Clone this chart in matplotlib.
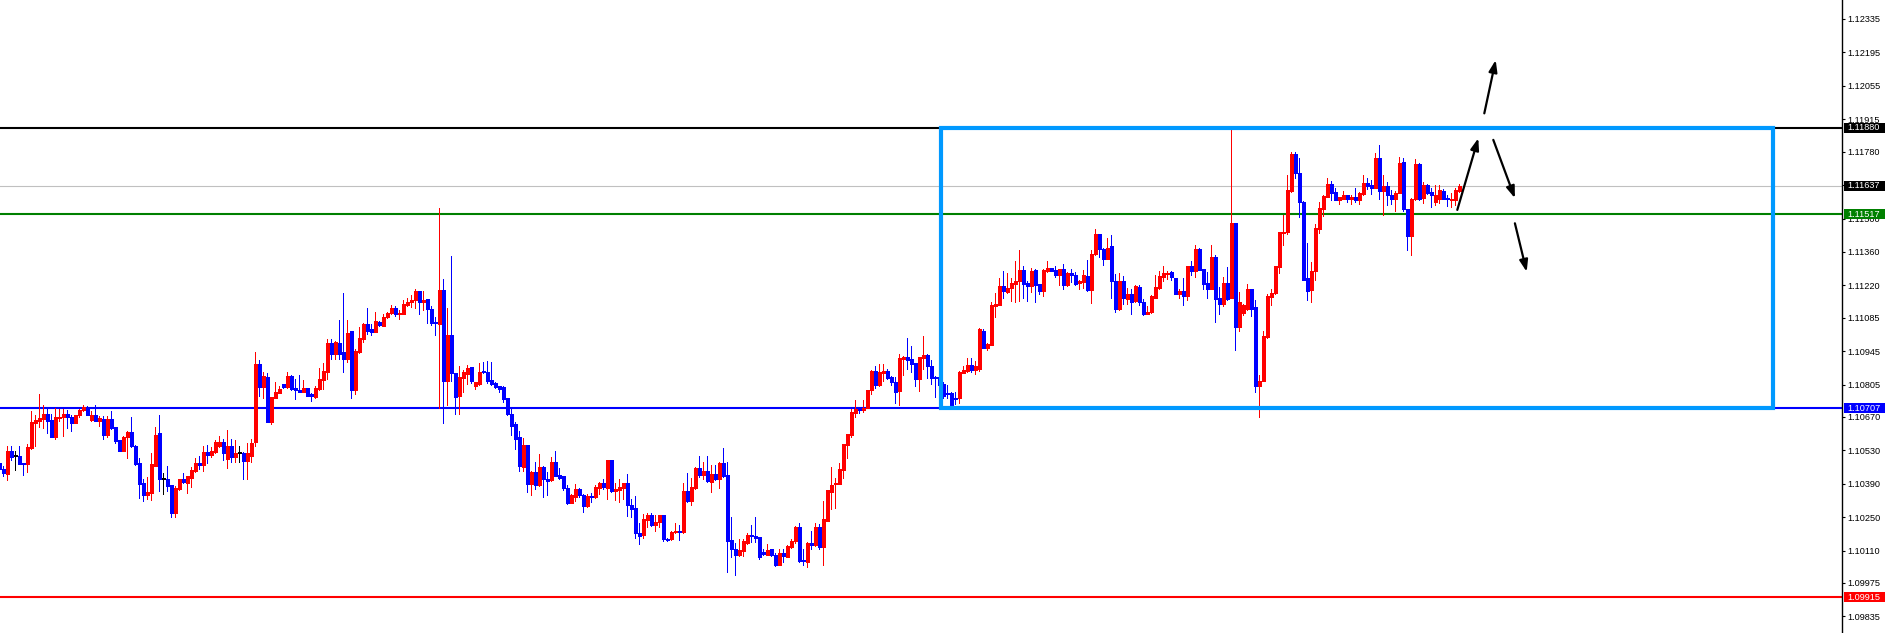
import matplotlib
matplotlib.use("Agg")
import matplotlib.pyplot as plt
from matplotlib.patches import Rectangle, FancyArrowPatch
import matplotlib.transforms as mtransforms
import numpy as np

# ---------------- data (EURUSD-style candles) ----------------
open_ = [
1.10475,1.10451,1.10431,1.10527,1.10506,1.10506,1.10476,1.10473,1.10541,1.10646,
1.10654,1.10662,1.10682,1.10657,1.10587,1.10665,1.10668,1.10682,1.10671,1.10646,
1.10676,1.10699,1.10707,1.10657,1.10679,1.10654,1.10662,1.10595,1.10662,1.10627,
1.10573,1.10528,1.10584,1.10606,1.10548,1.10476,1.10392,1.10343,1.10352,1.10466,
1.10601,1.10412,1.10412,1.10384,1.10268,1.10368,1.10409,1.10392,1.10415,1.10444,
1.10475,1.10469,1.10521,1.10512,1.10522,1.10546,1.10566,1.10494,1.10546,1.10504,
1.10518,1.10518,1.10486,1.10507,1.10566,1.10892,1.10797,1.10836,1.10647,1.10750,
1.10771,1.10808,1.10795,1.10841,1.10792,1.10782,1.10774,1.10792,1.10764,1.10753,
1.10787,1.10823,1.10859,1.10980,1.10935,1.10980,1.10943,1.10913,1.11030,1.10783,
1.10940,1.10996,1.11059,1.11036,1.11027,1.11068,1.11052,1.11086,1.11105,1.11127,
1.11099,1.11102,1.11139,1.11149,1.11158,1.11197,1.11149,1.11165,1.11123,1.11064,
1.11057,1.11202,1.10822,1.11014,1.10853,1.10759,1.10833,1.10850,1.10879,1.10800,
1.10807,1.10863,1.10857,1.10825,1.10812,1.10801,1.10793,1.10749,1.10682,1.10640,
1.10584,1.10461,1.10552,1.10389,1.10438,1.10385,1.10461,1.10412,1.10405,1.10481,
1.10426,1.10421,1.10372,1.10309,1.10336,1.10368,1.10343,1.10298,1.10339,1.10336,
1.10371,1.10392,1.10374,1.10488,1.10360,1.10362,1.10371,1.10392,1.10300,1.10288,
1.10185,1.10174,1.10237,1.10258,1.10216,1.10230,1.10258,1.10157,1.10157,1.10188,
1.10190,1.10188,1.10358,1.10316,1.10372,1.10455,1.10425,1.10442,1.10397,1.10430,
1.10409,1.10478,1.10425,1.10153,1.10118,1.10090,1.10108,1.10143,1.10174,1.10171,
1.10167,1.10104,1.10091,1.10116,1.10094,1.10052,1.10102,1.10083,1.10125,1.10150,
1.10208,1.10069,1.10062,1.10143,1.10132,1.10208,1.10125,1.10236,1.10355,1.10387,
1.10387,1.10447,1.10552,1.10593,1.10688,1.10703,1.10699,1.10708,1.10782,1.10861,
1.10803,1.10855,1.10861,1.10835,1.10817,1.10779,1.10914,1.10921,1.10912,1.10895,
1.10828,1.10917,1.10928,1.10881,1.10838,1.10835,1.10807,1.10768,1.10768,1.10751,
1.10748,1.10855,1.10863,1.10886,1.10865,1.10870,1.11030,1.10960,1.10972,1.11133,
1.11139,1.11218,1.11194,1.11211,1.11226,1.11237,1.11286,1.11230,1.11216,1.11283,
1.11227,1.11198,1.11279,1.11294,1.11286,1.11265,1.11288,1.11220,1.11271,1.11265,
1.11229,1.11234,1.11261,1.11199,1.11350,1.11437,1.11374,1.11332,1.11383,1.11240,
1.11120,1.11240,1.11162,1.11185,1.11153,1.11213,1.11151,1.11102,1.11107,1.11169,
1.11211,1.11257,1.11267,1.11275,1.11252,1.11186,1.11196,1.11175,1.11300,1.11279,
1.11371,1.11287,1.11232,1.11207,1.11341,1.11168,1.11144,1.11232,1.11168,1.11480,
1.11044,1.11105,1.11122,1.11207,1.11128,1.10800,1.10819,1.11003,1.11172,1.11188,
1.11297,1.11439,1.11442,1.11614,1.11769,1.11690,1.11569,1.11249,1.11200,1.11279,
1.11456,1.11540,1.11592,1.11643,1.11609,1.11578,1.11583,1.11597,1.11581,1.11592,
1.11578,1.11602,1.11648,1.11640,1.11629,1.11755,1.11615,1.11637,1.11600,1.11580,
1.11605,1.11738,1.11541,1.11425,1.11580,1.11730,1.11586,1.11642,1.11612,1.11569,
1.11583,1.11614,1.11583,1.11576,1.11576,1.11615]
high = [
1.10482,1.10465,1.10549,1.10549,1.10527,1.10549,1.10476,1.10555,1.10695,1.10678,
1.10766,1.10720,1.10703,1.10682,1.10707,1.10703,1.10703,1.10700,1.10679,1.10679,
1.10703,1.10720,1.10716,1.10696,1.10720,1.10675,1.10672,1.10673,1.10696,1.10627,
1.10573,1.10590,1.10612,1.10669,1.10553,1.10496,1.10412,1.10417,1.10518,1.10627,
1.10678,1.10434,1.10464,1.10384,1.10381,1.10412,1.10434,1.10423,1.10461,1.10497,
1.10506,1.10550,1.10554,1.10542,1.10574,1.10588,1.10577,1.10616,1.10577,1.10574,
1.10546,1.10521,1.10560,1.10577,1.10943,1.10910,1.10857,1.10854,1.10755,1.10817,
1.10801,1.10808,1.10859,1.10845,1.10829,1.10845,1.10826,1.10792,1.10770,1.10798,
1.10875,1.10894,1.10994,1.10994,1.10989,1.11077,1.11189,1.11076,1.11030,1.10954,
1.11045,1.11064,1.11126,1.11059,1.11108,1.11073,1.11101,1.11108,1.11136,1.11134,
1.11116,1.11158,1.11169,1.11179,1.11204,1.11197,1.11197,1.11165,1.11132,1.11088,
1.11542,1.11248,1.11127,1.11344,1.10853,1.10882,1.10864,1.10888,1.10879,1.10817,
1.10896,1.10899,1.10905,1.10900,1.10817,1.10801,1.10798,1.10749,1.10706,1.10650,
1.10612,1.10582,1.10552,1.10445,1.10480,1.10515,1.10466,1.10438,1.10503,1.10527,
1.10454,1.10421,1.10386,1.10347,1.10389,1.10373,1.10347,1.10347,1.10353,1.10383,
1.10397,1.10409,1.10488,1.10488,1.10392,1.10411,1.10395,1.10430,1.10325,1.10337,
1.10224,1.10262,1.10266,1.10269,1.10260,1.10260,1.10258,1.10162,1.10192,1.10227,
1.10216,1.10392,1.10434,1.10414,1.10459,1.10505,1.10480,1.10508,1.10467,1.10467,
1.10481,1.10539,1.10481,1.10253,1.10143,1.10157,1.10160,1.10185,1.10216,1.10253,
1.10167,1.10118,1.10136,1.10118,1.10101,1.10118,1.10118,1.10132,1.10157,1.10213,
1.10227,1.10115,1.10146,1.10192,1.10227,1.10222,1.10316,1.10362,1.10461,1.10415,
1.10475,1.10558,1.10597,1.10702,1.10740,1.10709,1.10740,1.10782,1.10865,1.10882,
1.10891,1.10891,1.10872,1.10842,1.10838,1.10933,1.10926,1.10999,1.10965,1.10895,
1.10921,1.11007,1.10933,1.10907,1.10840,1.10835,1.10814,1.10803,1.10772,1.10772,
1.10863,1.10884,1.10916,1.10916,1.10905,1.11040,1.11039,1.10980,1.11151,1.11190,
1.11251,1.11282,1.11274,1.11251,1.11321,1.11370,1.11300,1.11237,1.11294,1.11290,
1.11227,1.11290,1.11322,1.11294,1.11300,1.11290,1.11308,1.11276,1.11290,1.11276,
1.11241,1.11283,1.11328,1.11370,1.11454,1.11437,1.11377,1.11419,1.11429,1.11269,
1.11274,1.11260,1.11211,1.11204,1.11220,1.11220,1.11162,1.11132,1.11178,1.11262,
1.11279,1.11300,1.11281,1.11281,1.11252,1.11203,1.11249,1.11300,1.11322,1.11389,
1.11375,1.11290,1.11276,1.11388,1.11347,1.11213,1.11255,1.11297,1.11874,1.11480,
1.11191,1.11144,1.11228,1.11207,1.11157,1.10847,1.11028,1.11185,1.11203,1.11300,
1.11442,1.11515,1.11681,1.11779,1.11779,1.11752,1.11572,1.11396,1.11320,1.11476,
1.11569,1.11599,1.11669,1.11657,1.11629,1.11592,1.11614,1.11597,1.11597,1.11629,
1.11609,1.11681,1.11669,1.11660,1.11776,1.11809,1.11684,1.11654,1.11621,1.11617,
1.11759,1.11755,1.11541,1.11586,1.11751,1.11734,1.11653,1.11646,1.11629,1.11642,
1.11642,1.11622,1.11600,1.11608,1.11629,1.11643]
low = [
1.10448,1.10423,1.10406,1.10490,1.10448,1.10473,1.10427,1.10440,1.10535,1.10549,
1.10629,1.10623,1.10604,1.10587,1.10576,1.10651,1.10590,1.10623,1.10612,1.10643,
1.10671,1.10693,1.10679,1.10654,1.10654,1.10632,1.10578,1.10587,1.10620,1.10562,
1.10528,1.10528,1.10497,1.10545,1.10468,1.10331,1.10318,1.10326,1.10324,1.10466,
1.10361,1.10347,1.10361,1.10252,1.10252,1.10363,1.10392,1.10352,1.10375,1.10441,
1.10452,1.10445,1.10479,1.10501,1.10518,1.10542,1.10490,1.10455,1.10483,1.10483,
1.10483,1.10409,1.10409,1.10483,1.10549,1.10756,1.10750,1.10650,1.10640,1.10748,
1.10770,1.10790,1.10792,1.10784,1.10745,1.10773,1.10773,1.10756,1.10738,1.10750,
1.10784,1.10787,1.10829,1.10913,1.10913,1.10913,1.10859,1.10899,1.10750,1.10766,
1.10938,1.10985,1.11017,1.11013,1.11024,1.11052,1.11050,1.11083,1.11100,1.11092,
1.11081,1.11099,1.11132,1.11130,1.11127,1.11099,1.11118,1.11064,1.11056,1.11014,
1.10707,1.10645,1.10721,1.10822,1.10682,1.10682,1.10773,1.10808,1.10812,1.10787,
1.10805,1.10854,1.10812,1.10805,1.10791,1.10776,1.10734,1.10677,1.10594,1.10536,
1.10445,1.10445,1.10357,1.10343,1.10368,1.10382,1.10333,1.10343,1.10403,1.10421,
1.10410,1.10365,1.10305,1.10308,1.10319,1.10336,1.10273,1.10291,1.10315,1.10332,
1.10348,1.10367,1.10325,1.10357,1.10322,1.10313,1.10325,1.10255,1.10252,1.10164,
1.10137,1.10162,1.10210,1.10213,1.10192,1.10210,1.10150,1.10149,1.10154,1.10182,
1.10154,1.10185,1.10313,1.10302,1.10369,1.10420,1.10411,1.10397,1.10355,1.10406,
1.10372,1.10420,1.10020,1.10083,1.10007,1.10087,1.10087,1.10140,1.10146,1.10146,
1.10076,1.10093,1.10091,1.10088,1.10048,1.10052,1.10062,1.10083,1.10120,1.10143,
1.10062,1.10052,1.10042,1.10118,1.10129,1.10115,1.10052,1.10234,1.10283,1.10290,
1.10387,1.10413,1.10496,1.10586,1.10670,1.10687,1.10689,1.10706,1.10765,1.10789,
1.10800,1.10821,1.10828,1.10803,1.10730,1.10720,1.10845,1.10870,1.10856,1.10800,
1.10779,1.10870,1.10832,1.10807,1.10755,1.10783,1.10751,1.10751,1.10719,1.10723,
1.10730,1.10852,1.10856,1.10856,1.10849,1.10863,1.10958,1.10948,1.10969,1.11086,
1.11137,1.11169,1.11190,1.11153,1.11151,1.11153,1.11169,1.11155,1.11192,1.11151,
1.11185,1.11174,1.11275,1.11279,1.11255,1.11220,1.11206,1.11216,1.11234,1.11223,
1.11206,1.11211,1.11197,1.11148,1.11346,1.11339,1.11304,1.11329,1.11169,1.11107,
1.11117,1.11141,1.11141,1.11099,1.11151,1.11137,1.11095,1.11102,1.11104,1.11169,
1.11206,1.11237,1.11248,1.11244,1.11186,1.11168,1.11140,1.11161,1.11262,1.11255,
1.11283,1.11207,1.11168,1.11207,1.11066,1.11102,1.11133,1.11158,1.11168,1.10951,
1.11028,1.11098,1.11119,1.11094,1.10773,1.10668,1.10819,1.11000,1.11136,1.11186,
1.11273,1.11389,1.11437,1.11610,1.11671,1.11506,1.11242,1.11161,1.11150,1.11242,
1.11438,1.11511,1.11588,1.11578,1.11576,1.11560,1.11581,1.11569,1.11562,1.11571,
1.11560,1.11597,1.11622,1.11604,1.11629,1.11583,1.11513,1.11558,1.11559,1.11531,
1.11605,1.11530,1.11370,1.11349,1.11576,1.11576,1.11565,1.11604,1.11548,1.11558,
1.11565,1.11580,1.11551,1.11548,1.11555,1.11611]
close = [
1.10451,1.10434,1.10527,1.10501,1.10506,1.10473,1.10473,1.10543,1.10648,1.10657,
1.10665,1.10682,1.10654,1.10587,1.10668,1.10671,1.10682,1.10668,1.10646,1.10676,
1.10699,1.10713,1.10679,1.10676,1.10654,1.10665,1.10595,1.10662,1.10623,1.10570,
1.10528,1.10584,1.10606,1.10548,1.10473,1.10389,1.10343,1.10354,1.10472,1.10594,
1.10409,1.10412,1.10381,1.10268,1.10371,1.10409,1.10398,1.10423,1.10447,1.10475,
1.10469,1.10521,1.10512,1.10529,1.10564,1.10566,1.10518,1.10546,1.10500,1.10518,
1.10518,1.10486,1.10518,1.10560,1.10892,1.10797,1.10839,1.10650,1.10755,1.10774,
1.10787,1.10794,1.10841,1.10787,1.10781,1.10774,1.10792,1.10759,1.10759,1.10792,
1.10829,1.10862,1.10980,1.10935,1.10985,1.10935,1.10913,1.11022,1.10783,1.10947,
1.11001,1.11059,1.11030,1.11027,1.11071,1.11055,1.11087,1.11105,1.11126,1.11099,
1.11102,1.11144,1.11151,1.11160,1.11197,1.11149,1.11160,1.11123,1.11064,1.11061,
1.11202,1.10822,1.11014,1.10853,1.10755,1.10836,1.10856,1.10874,1.10821,1.10817,
1.10857,1.10856,1.10821,1.10808,1.10797,1.10787,1.10745,1.10680,1.10633,1.10577,
1.10466,1.10552,1.10389,1.10440,1.10385,1.10461,1.10412,1.10403,1.10481,1.10424,
1.10414,1.10373,1.10309,1.10343,1.10368,1.10343,1.10298,1.10337,1.10336,1.10376,
1.10392,1.10376,1.10488,1.10360,1.10367,1.10376,1.10392,1.10300,1.10286,1.10185,
1.10171,1.10241,1.10258,1.10216,1.10232,1.10258,1.10157,1.10154,1.10190,1.10190,
1.10188,1.10358,1.10316,1.10375,1.10455,1.10428,1.10442,1.10400,1.10430,1.10409,
1.10476,1.10423,1.10150,1.10118,1.10090,1.10111,1.10149,1.10174,1.10171,1.10164,
1.10083,1.10098,1.10111,1.10091,1.10052,1.10102,1.10087,1.10129,1.10152,1.10208,
1.10066,1.10066,1.10143,1.10132,1.10208,1.10125,1.10241,1.10362,1.10386,1.10392,
1.10450,1.10555,1.10597,1.10692,1.10703,1.10699,1.10708,1.10782,1.10863,1.10803,
1.10856,1.10861,1.10832,1.10817,1.10775,1.10916,1.10921,1.10907,1.10893,1.10828,
1.10921,1.10928,1.10881,1.10833,1.10831,1.10803,1.10758,1.10765,1.10719,1.10744,
1.10856,1.10865,1.10886,1.10865,1.10884,1.11037,1.10960,1.10976,1.11139,1.11144,
1.11218,1.11195,1.11211,1.11230,1.11240,1.11286,1.11227,1.11216,1.11282,1.11223,
1.11198,1.11283,1.11294,1.11279,1.11262,1.11288,1.11220,1.11271,1.11262,1.11227,
1.11237,1.11262,1.11199,1.11353,1.11437,1.11371,1.11332,1.11377,1.11237,1.11120,
1.11240,1.11167,1.11185,1.11151,1.11216,1.11151,1.11099,1.11109,1.11174,1.11215,
1.11260,1.11274,1.11274,1.11255,1.11186,1.11196,1.11175,1.11300,1.11279,1.11371,
1.11286,1.11228,1.11207,1.11341,1.11165,1.11144,1.11232,1.11164,1.11480,1.11044,
1.11149,1.11136,1.11207,1.11123,1.10800,1.10820,1.11010,1.11174,1.11190,1.11300,
1.11442,1.11445,1.11618,1.11769,1.11690,1.11569,1.11242,1.11196,1.11279,1.11459,
1.11543,1.11593,1.11643,1.11606,1.11578,1.11588,1.11597,1.11581,1.11592,1.11578,
1.11606,1.11648,1.11636,1.11628,1.11755,1.11615,1.11637,1.11597,1.11580,1.11608,
1.11734,1.11538,1.11425,1.11580,1.11730,1.11583,1.11642,1.11608,1.11597,1.11600,
1.11618,1.11580,1.11580,1.11583,1.11618,1.11637]

# horizontal levels
level_prices = [1.11880, 1.11637, 1.11517, 1.10707, 1.09915]
level_labels = ["1.11880", "1.11637", "1.11517", "1.10707", "1.09915"]
level_line_colors = ["#000000", "#C0C0C0", "#008000", "#0000FF", "#FF0000"]
level_box_colors = ["#000000", "#000000", "#008000", "#0000FF", "#FF0000"]
level_widths = [1.5, 0.8, 1.5, 1.5, 1.5]

# price-scale tick labels
tick_values = [1.12335, 1.12195, 1.12055, 1.11915, 1.11780, 1.11640, 1.11500,
               1.11360, 1.11220, 1.11085, 1.10945, 1.10805, 1.10670, 1.10530,
               1.10390, 1.10250, 1.10110, 1.09975, 1.09835]

# range rectangle (bar index, price)
range_left, range_right = 235.4, 443.4
range_top, range_bottom = 1.11880, 1.10707

# scenario arrows (bar index, price)
arrow_starts = [(364.5, 1.11536), (371.25, 1.11940), (373.5, 1.11829), (378.9, 1.11480)]
arrow_ends = [(369.75, 1.11836), (374.1, 1.12163), (378.9, 1.11585), (381.85, 1.11277)]

# ---------------- drawing ----------------
W, H, DPI = 1889, 633, 100
fig = plt.figure(figsize=(W / DPI, H / DPI), dpi=DPI)
fig.patch.set_facecolor("white")
axis_px = 1842
ax = fig.add_axes([0, 0, axis_px / W, 1])
ax.set_facecolor("white")

o = np.array(open_); h = np.array(high); l = np.array(low); c = np.array(close)
x = np.arange(len(o))
cols = np.where(c > o, "#FF0000", np.where(c < o, "#0000FF", "#000000"))

ylo, yhi = 1.097656, 1.124143
px_price = (yhi - ylo) / H

ax.vlines(x, l, h, colors=cols, linewidth=0.72, antialiased=False, zorder=3)
body_h = np.maximum(np.abs(c - o), px_price)
ax.bar(x, body_h, bottom=np.minimum(o, c), width=0.62, color=cols,
       edgecolor=cols, linewidth=0.4, antialiased=False, zorder=4)

for p, lc, lw in zip(level_prices, level_line_colors, level_widths):
    ax.axhline(p, color=lc, linewidth=lw, zorder=2)

rect = Rectangle((range_left, range_bottom), range_right - range_left,
                 range_top - range_bottom, fill=False, edgecolor="#0099FF",
                 linewidth=3.0, zorder=5, joinstyle="miter")
ax.add_patch(rect)

for (x0, y0), (x1, y1) in zip(arrow_starts, arrow_ends):
    arr = FancyArrowPatch((x0, y0), (x1, y1),
                          arrowstyle="-|>,head_length=0.7,head_width=0.25",
                          mutation_scale=10, color="black", linewidth=1.6,
                          zorder=6, shrinkA=0, shrinkB=0)
    ax.add_patch(arr)

ax.set_xlim(0.175, 460.675)
ax.set_ylim(ylo, yhi)

for s in ["top", "left", "bottom"]:
    ax.spines[s].set_visible(False)
ax.spines["right"].set_linewidth(1.0)
ax.spines["right"].set_color("black")
ax.set_xticks([])
ax.yaxis.tick_right()
ax.set_yticks(tick_values)
ax.set_yticklabels([f"{v:.5f}" for v in tick_values])
ax.tick_params(axis="y", direction="out", length=2.4, width=0.8, pad=1.8,
               labelsize=6.6, colors="black")
for lab in ax.get_yticklabels():
    lab.set_family("Liberation Sans")

trans = mtransforms.blended_transform_factory(ax.transAxes, ax.transData)
bx0 = 1844 / axis_px
bw = 41 / axis_px
bh = 10 * px_price
for p, lab, bc in zip(level_prices, level_labels, level_box_colors):
    ax.add_patch(Rectangle((bx0, p - bh / 2), bw, bh, transform=trans,
                           facecolor=bc, edgecolor="none", clip_on=False, zorder=10))
    ax.text(1847.5 / axis_px, p, lab, transform=trans, ha="left", va="center",
            color="white", fontsize=6.6, family="Liberation Sans",
            clip_on=False, zorder=11)

fig.savefig("out.png", dpi=DPI, facecolor="white")
